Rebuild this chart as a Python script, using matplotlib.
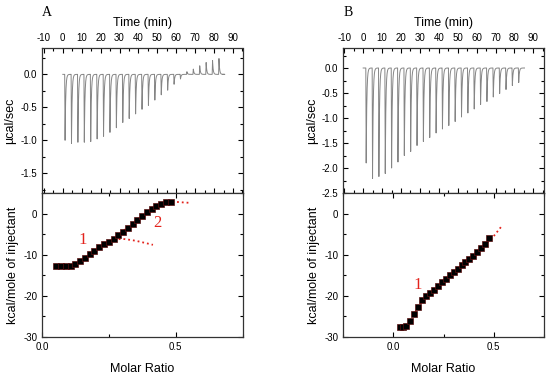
import numpy as np
import matplotlib.pyplot as plt
from matplotlib.ticker import MultipleLocator

plt.rcParams['axes.unicode_minus'] = False
plt.rcParams['font.family'] = ['Liberation Sans', 'DejaVu Sans']

# panel A raw heat trace: peak height of each injection (ucal/sec)
peaks_a = [-1.00, -1.05, -1.03, -1.03, -1.02, -0.98, -0.94, -0.88, -0.81, -0.73,
           -0.67, -0.60, -0.53, -0.47, -0.39, -0.31, -0.24, -0.15, -0.07, 0.04,
           0.08, 0.13, 0.18, 0.21, 0.24]
first_a, step_a, end_a = 1.0, 3.39, 84.7

# panel B raw heat trace
peaks_b = [-1.90, -2.21, -2.17, -2.11, -2.00, -1.88, -1.75, -1.67, -1.55, -1.47,
           -1.39, -1.30, -1.22, -1.15, -1.07, -0.98, -0.90, -0.82, -0.73, -0.67,
           -0.58, -0.51, -0.43, -0.35, -0.29]
first_b, step_b, end_b = 1.4, 3.36, 85.3

# integrated heats, panel A
ratio_a = [0.054, 0.072, 0.090, 0.107, 0.125, 0.143, 0.161, 0.179, 0.196, 0.214,
           0.232, 0.250, 0.268, 0.285, 0.303, 0.321, 0.339, 0.357, 0.374, 0.392,
           0.410, 0.428, 0.446, 0.463, 0.481]
heat_a = [-12.8, -12.8, -12.8, -12.7, -12.2, -11.6, -10.7, -9.8, -9.0, -8.2,
          -7.5, -6.8, -6.3, -5.2, -4.4, -3.6, -2.6, -1.6, -0.6, 0.4,
          1.2, 1.9, 2.4, 2.7, 2.8]
fit1_x = [0.05, 0.07, 0.09, 0.11, 0.13, 0.15, 0.17, 0.19, 0.21, 0.23, 0.25, 0.27,
          0.29, 0.31, 0.33, 0.35, 0.37, 0.39, 0.415]
fit1_y = [-13.0, -13.2, -13.3, -13.0, -12.3, -11.3, -10.2, -9.2, -8.3, -7.5, -6.9,
          -6.4, -6.2, -6.2, -6.4, -6.6, -6.9, -7.2, -7.6]
fit2_x = [0.25, 0.27, 0.29, 0.31, 0.33, 0.35, 0.37, 0.39, 0.41, 0.43, 0.45, 0.47,
          0.49, 0.51, 0.53, 0.556]
fit2_y = [-7.0, -6.1, -5.0, -3.9, -2.9, -1.9, -0.9, 0.2, 1.1, 1.9, 2.5, 2.8,
          2.9, 2.8, 2.7, 2.6]

# integrated heats, panel B
ratio_b = [0.031, 0.048, 0.065, 0.084, 0.104, 0.124, 0.144, 0.161, 0.180, 0.200,
           0.220, 0.240, 0.260, 0.280, 0.300, 0.320, 0.340, 0.359, 0.379, 0.399,
           0.419, 0.439, 0.459, 0.475]
heat_b = [-27.5, -27.5, -27.4, -26.1, -24.4, -22.7, -21.0, -20.1, -19.3, -18.5,
          -17.6, -16.7, -15.9, -15.0, -14.2, -13.4, -12.6, -11.8, -11.0, -10.2,
          -9.4, -8.4, -7.5, -6.0]
fitb_x = [0.03, 0.05, 0.07, 0.09, 0.11, 0.13, 0.15, 0.17, 0.20, 0.25, 0.30, 0.35,
          0.40, 0.45, 0.50, 0.536]
fitb_y = [-27.6, -27.6, -27.3, -25.7, -23.9, -22.2, -20.8, -19.7, -18.4, -16.4,
          -14.2, -12.3, -10.2, -8.0, -5.5, -3.3]

RED = '#e3231c'
GRAY = '#858585'


def thermogram(peaks, first, step, end):
    t = [0.0]
    y = [0.0]
    for i, p in enumerate(peaks):
        t0 = first + i * step
        t += [t0, t0 + 0.2]
        y += [0.0, p]
        for dt in np.linspace(0.05, step - 0.3, 14):
            t.append(t0 + 0.2 + dt)
            y.append(p * np.exp(-dt / 0.33))
    t.append(end)
    y.append(0.0)
    return np.array(t), np.array(y)


def style(ax):
    ax.tick_params(which='both', direction='in', top=True, right=True,
                   bottom=True, left=True, labelsize=7, width=0.8)
    ax.tick_params(which='major', length=3.5)
    ax.tick_params(which='minor', length=2)
    for s in ax.spines.values():
        s.set_linewidth(0.9)
        s.set_color('#333333')


fig = plt.figure(figsize=(5.5, 3.75), dpi=100)

lefts = [42 / 550, 343.3 / 550]
w = 200.5 / 550
top_pos = (193, 48)
bot_pos = (337, 193)

panels = [
    ('A', peaks_a, first_a, step_a, end_a, (-1.8, 0.4), (-11, 95)),
    ('B', peaks_b, first_b, step_b, end_b, (-2.5, 0.4), (-10.5, 95.5)),
]

for k, (lab, peaks, first, step, end, ylim, xlim) in enumerate(panels):
    l = lefts[k]
    ax1 = fig.add_axes([l, 1 - top_pos[0] / 375, w, (top_pos[0] - top_pos[1]) / 375])
    t, y = thermogram(peaks, first, step, end)
    ax1.plot(t, y, color=GRAY, lw=0.7)
    ax1.set_xlim(*xlim)
    ax1.set_ylim(*ylim)
    ax1.xaxis.set_major_locator(MultipleLocator(10))
    ax1.xaxis.set_minor_locator(MultipleLocator(5))
    ax1.yaxis.set_major_locator(MultipleLocator(0.5))
    ax1.yaxis.set_minor_locator(MultipleLocator(0.25))
    ax1.yaxis.set_major_formatter(plt.FormatStrFormatter('%.1f'))
    style(ax1)
    ax1.tick_params(labeltop=True, labelbottom=False)
    ax1.xaxis.set_label_position('top')
    ax1.set_xlabel('Time (min)', fontsize=9, labelpad=5)
    ax1.set_ylabel('µcal/sec', fontsize=9, labelpad=3)

    ax2 = fig.add_axes([l, 1 - bot_pos[0] / 375, w, (bot_pos[0] - bot_pos[1]) / 375])
    if k == 0:
        ax2.plot(fit1_x, fit1_y, ':', color=RED, lw=1.3)
        ax2.plot(fit2_x, fit2_y, ':', color=RED, lw=1.3)
        ax2.plot(ratio_a, heat_a, 's', color='black', mec='#5a1010', ms=4, mew=0.5)
        ax2.text(0.154, -6.5, '1', color=RED, fontsize=12,
                 family='Liberation Serif', ha='center', va='center')
        ax2.text(0.431, -2.3, '2', color=RED, fontsize=12,
                 family='Liberation Serif', ha='center', va='center')
        ax2.set_xlim(0, 0.75)
    else:
        ax2.plot(fitb_x, fitb_y, ':', color=RED, lw=1.3)
        ax2.plot(ratio_b, heat_b, 's', color='black', mec='#5a1010', ms=4, mew=0.5)
        ax2.text(0.119, -17.4, '1', color=RED, fontsize=12,
                 family='Liberation Serif', ha='center', va='center')
        ax2.set_xlim(-0.25, 0.75)
    ax2.set_ylim(-30, 5)
    ax2.xaxis.set_major_locator(MultipleLocator(0.5))
    ax2.xaxis.set_minor_locator(MultipleLocator(0.25))
    ax2.yaxis.set_major_locator(MultipleLocator(10))
    ax2.yaxis.set_minor_locator(MultipleLocator(5))
    ax2.xaxis.set_major_formatter(plt.FormatStrFormatter('%.1f'))
    style(ax2)
    ax2.set_xlabel('Molar Ratio', fontsize=9, labelpad=8)
    ax2.set_ylabel('kcal/mole of injectant', fontsize=9, labelpad=3)

    fig.text(l + 5 / 550, 1 - 13 / 375, lab,
             family='Liberation Serif', fontsize=10, ha='center', va='center')

fig.savefig('out.png', dpi=100)
